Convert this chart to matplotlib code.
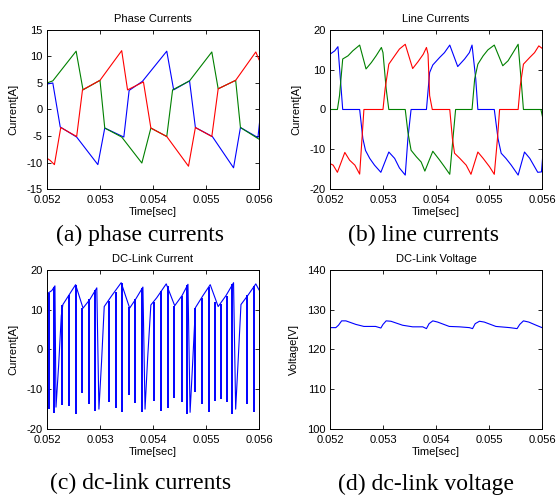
import matplotlib
matplotlib.use('Agg')
import matplotlib.pyplot as plt
import numpy as np

plt.rcParams['font.family'] = ['Liberation Sans', 'DejaVu Sans']
plt.rcParams['axes.unicode_minus'] = False

# time axis
time_ticks = [0.052, 0.053, 0.054, 0.055, 0.056]
time_labels = ['0.052', '0.053', '0.054', '0.055', '0.056']

# ---- phase currents [A] ----
phase_b_t = [0.05200, 0.05211, 0.05225, 0.05256, 0.05296, 0.05309, 0.05345, 0.05355, 0.05380,
             0.05426, 0.05439, 0.05469, 0.05480, 0.05512, 0.05552, 0.05565, 0.05598, 0.05601]
phase_b_i = [4.8, 5.0, -3.3, -5.2, -10.4, -3.5, -5.2, 3.6, 5.3,
             11.0, 3.7, 5.4, -3.4, -5.1, -11.0, -3.4, -5.3, -2.5]

phase_g_t = [0.05200, 0.05211, 0.05255, 0.05268, 0.05300, 0.05309, 0.05341, 0.05379, 0.05396,
             0.05426, 0.05437, 0.05469, 0.05511, 0.05523, 0.05556, 0.05565, 0.05600]
phase_g_i = [5.0, 5.4, 11.0, 3.7, 5.5, -3.5, -5.2, -10.1, -3.5,
             -5.1, 3.7, 5.4, 10.85, 3.9, 5.5, -3.4, -5.6]

phase_r_t = [0.05200, 0.05206, 0.05214, 0.05226, 0.05256, 0.05267, 0.05300, 0.05341, 0.05352,
             0.05382, 0.05396, 0.05426, 0.05467, 0.05480, 0.05511, 0.05523, 0.05556, 0.05594, 0.05600]
phase_r_i = [-9.2, -9.6, -10.4, -3.4, -5.1, 3.7, 5.5, 11.1, 3.7,
             5.2, -3.5, -5.1, -10.7, -3.4, -5.1, 3.9, 5.5, 10.85, 9.4]

# ---- line currents [A] ----
line_b_t = [0.05200, 0.05209, 0.05215, 0.05224, 0.05256, 0.05262, 0.05267, 0.05275, 0.05284, 0.05296,
            0.05311, 0.05322, 0.05331, 0.05342, 0.05347, 0.05353, 0.05382, 0.05388, 0.05394, 0.05407,
            0.05416, 0.05426, 0.05441, 0.05454, 0.05463, 0.05468, 0.05475, 0.05479, 0.05510, 0.05517,
            0.05523, 0.05532, 0.05542, 0.05555, 0.05567, 0.05577, 0.05586, 0.05592, 0.05599, 0.05602]
line_b_i = [13.9, 14.75, 15.8, 0, 0, -7.3, -10.3, -12.3, -14.0, -15.8,
            -10.7, -12.3, -14.7, -16.5, -7.3, 0, 0, 9.3, 11.2, 13.1,
            14.3, 16.2, 10.8, 12.7, 14.3, 16.2, 7.7, 0, 0, -7.3,
            -11.0, -12.3, -14.0, -16.5, -10.7, -12.3, -14.4, -15.8, -15.7, -10.7]

line_g_t = [0.05200, 0.05214, 0.05218, 0.05224, 0.05234, 0.05243, 0.05256, 0.05268, 0.05278, 0.05287,
            0.05297, 0.05300, 0.05306, 0.05311, 0.05342, 0.05347, 0.05353, 0.05363, 0.05372, 0.05379,
            0.05394, 0.05407, 0.05416, 0.05426, 0.05432, 0.05437, 0.05468, 0.05473, 0.05479, 0.05489,
            0.05498, 0.05510, 0.05526, 0.05536, 0.05545, 0.05555, 0.05561, 0.05565, 0.05598, 0.05602]
line_g_i = [0, 0, 3.5, 12.7, 13.5, 14.75, 16.2, 10.2, 11.8, 13.5,
            15.6, 14.3, 5.2, 0, 0, -5.7, -10.25, -11.9, -13.2, -15.5,
            -10.5, -12.75, -14.4, -16.3, -7.3, 0, 0, 7.7, 11.4, 13.5,
            15.0, 16.2, 11.0, 12.25, 14.2, 16.4, 6.8, 0, 0, -2.5]

line_r_t = [0.05200, 0.05206, 0.05214, 0.05228, 0.05237, 0.05247, 0.05256, 0.05264, 0.05300, 0.05304,
            0.05311, 0.05322, 0.05331, 0.05342, 0.05356, 0.05366, 0.05376, 0.05382, 0.05385, 0.05388,
            0.05393, 0.05426, 0.05431, 0.05435, 0.05445, 0.05457, 0.05466, 0.05479, 0.05489, 0.05501,
            0.05510, 0.05516, 0.05520, 0.05555, 0.05559, 0.05565, 0.05577, 0.05586, 0.05594, 0.05602]
line_r_i = [-13.6, -14.0, -15.8, -10.8, -12.75, -14.0, -16.25, 0, 0, 5.2,
            11.4, 13.5, 15.2, 16.4, 10.3, 12.0, 13.9, 15.6, 13.9, 3.5,
            0, 0, -7.3, -11.0, -12.3, -14.0, -16.3, -10.7, -12.3, -14.4,
            -16.3, -7.3, 0, 0, 6.0, 11.4, 13.1, 14.3, 16.0, 15.2]

# ---- dc-link current [A]: envelope with commutation slopes, plus switching notches ----
dc_t = [0.05200, 0.05209, 0.05215, 0.05217, 0.05222, 0.05227, 0.05230, 0.05242, 0.05254, 0.05268,
        0.05281, 0.05294, 0.05298, 0.05303, 0.05308, 0.05322, 0.05340, 0.05356, 0.05368, 0.05381,
        0.05385, 0.05390, 0.05396, 0.05407, 0.05425, 0.05441, 0.05455, 0.05466, 0.05470, 0.05475,
        0.05480, 0.05494, 0.05508, 0.05523, 0.05538, 0.05552, 0.05556, 0.05561, 0.05566, 0.05580,
        0.05594, 0.05600]
dc_i = [14.0, 14.8, 16.0, -14.5, -4.0, 8.5, 11.3, 13.8, 16.3, 10.4,
        12.6, 15.5, -15.0, -3.0, 10.8, 13.5, 16.8, 10.4, 12.8, 15.7,
        -15.0, -2.0, 11.2, 13.0, 16.5, 11.0, 13.6, 16.4, -15.8, -3.0,
        10.5, 13.5, 16.3, 10.8, 13.6, 16.8, -15.0, -2.0, 11.3, 13.8,
        16.5, 15.0]

notch_t = [0.05204, 0.05214, 0.05229, 0.05242, 0.05255, 0.05267, 0.05280, 0.05291,
           0.05317, 0.05330, 0.05342, 0.05354, 0.05367, 0.05380,
           0.05402, 0.05416, 0.05429, 0.05440, 0.05454, 0.05465,
           0.05479, 0.05492, 0.05505, 0.05517, 0.05528, 0.05539, 0.05550,
           0.05578, 0.05590]
notch_lo = [-15.0, -15.9, -14.0, -14.2, -16.3, -11.0, -13.7, -15.4,
            -13.3, -14.6, -15.8, -11.4, -13.4, -15.7,
            -12.9, -15.4, -14.8, -12.1, -13.3, -16.2,
            -10.8, -13.7, -15.8, -12.9, -12.5, -13.3, -16.2,
            -13.7, -15.8]
notch_hi = [14.3, 15.8, 11.3, 13.8, 16.2, 10.5, 12.6, 14.9,
            12.3, 14.4, 16.7, 10.6, 12.8, 15.5,
            12.0, 14.6, 16.0, 11.0, 13.4, 16.2,
            10.5, 13.0, 15.8, 12.0, 11.5, 13.5, 16.5,
            13.7, 16.0]

# ---- dc-link voltage [V] ----
vdc_t = [0.05200, 0.05211, 0.05216, 0.05222, 0.05230, 0.05249, 0.05264, 0.05286, 0.05296, 0.05300,
         0.05306, 0.05315, 0.05337, 0.05356, 0.05375, 0.05382, 0.05387, 0.05394, 0.05403, 0.05425,
         0.05444, 0.05463, 0.05469, 0.05474, 0.05482, 0.05491, 0.05513, 0.05539, 0.05553, 0.05558,
         0.05565, 0.05575, 0.05589, 0.05600]
vdc_v = [125.5, 125.5, 126.1, 127.2, 127.2, 126.3, 125.8, 125.8, 125.4, 126.3,
         127.2, 127.1, 126.1, 125.7, 125.7, 125.25, 126.5, 127.2, 126.9, 125.8,
         125.7, 125.5, 125.25, 126.5, 127.1, 126.9, 125.8, 125.5, 125.25, 126.3,
         127.2, 126.9, 126.1, 125.5]

BLUE = '#0000ff'
GREEN = '#008000'
RED = '#ff0000'
LW = 0.8


def styleAxes(ax, title, ylabel, yticks):
    ax.set_xlim(time_ticks[0], time_ticks[-1])
    ax.set_xticks(time_ticks)
    ax.set_xticklabels(time_labels)
    ax.set_ylim(yticks[0], yticks[-1])
    ax.set_yticks(yticks)
    ax.tick_params(direction='in', top=True, right=True, length=3, width=0.6,
                   labelsize=8, colors='black')
    ax.tick_params(axis='x', pad=4.5)
    ax.tick_params(axis='y', pad=3)
    ax.set_title(title, fontsize=8, pad=6)
    ax.set_xlabel('Time[sec]', fontsize=8, labelpad=1)
    ax.set_ylabel(ylabel, fontsize=8, labelpad=6)
    for s in ax.spines.values():
        s.set_linewidth(0.7)


fig = plt.figure(figsize=(5.56, 4.97), dpi=100)

w, h = 0.3813, 0.32
ax_a = fig.add_axes([0.0845, 0.6197, w, h])
ax_b = fig.add_axes([0.5935, 0.6197, w, h])
ax_c = fig.add_axes([0.0845, 0.1368, w, h])
ax_d = fig.add_axes([0.5935, 0.1368, w, h])

# (a) phase currents
ax_a.plot(phase_b_t, phase_b_i, color=BLUE, lw=LW)
ax_a.plot(phase_g_t, phase_g_i, color=GREEN, lw=LW)
ax_a.plot(phase_r_t, phase_r_i, color=RED, lw=LW)
styleAxes(ax_a, 'Phase Currents', 'Current[A]', [-15, -10, -5, 0, 5, 10, 15])

# (b) line currents
ax_b.plot(line_b_t, line_b_i, color=BLUE, lw=LW)
ax_b.plot(line_g_t, line_g_i, color=GREEN, lw=LW)
ax_b.plot(line_r_t, line_r_i, color=RED, lw=LW)
styleAxes(ax_b, 'Line Currents', 'Current[A]', [-20, -10, 0, 10, 20])

# (c) dc-link current
ax_c.plot(dc_t, dc_i, color=BLUE, lw=LW)
ax_c.vlines(notch_t, notch_lo, notch_hi, color=BLUE, lw=1.4)
styleAxes(ax_c, 'DC-Link Current', 'Current[A]', [-20, -10, 0, 10, 20])

# (d) dc-link voltage
ax_d.plot(vdc_t, vdc_v, color=BLUE, lw=LW)
styleAxes(ax_d, 'DC-Link Voltage', 'Voltage[V]', [100, 110, 120, 130, 140])

# captions under each panel
cap = dict(family=['Liberation Serif', 'DejaVu Serif'], fontsize=17, ha='center', va='baseline')
fig.text(140.5 / 556, 1 - 241 / 497, '(a) phase currents', **cap)
fig.text(424 / 556, 1 - 241 / 497, '(b) line currents', **cap)
fig.text(141 / 556, 1 - 489 / 497, '(c) dc-link currents', **cap)
fig.text(426 / 556, 1 - 490 / 497, '(d) dc-link voltage', **cap)

fig.savefig('out.png', dpi=100)
